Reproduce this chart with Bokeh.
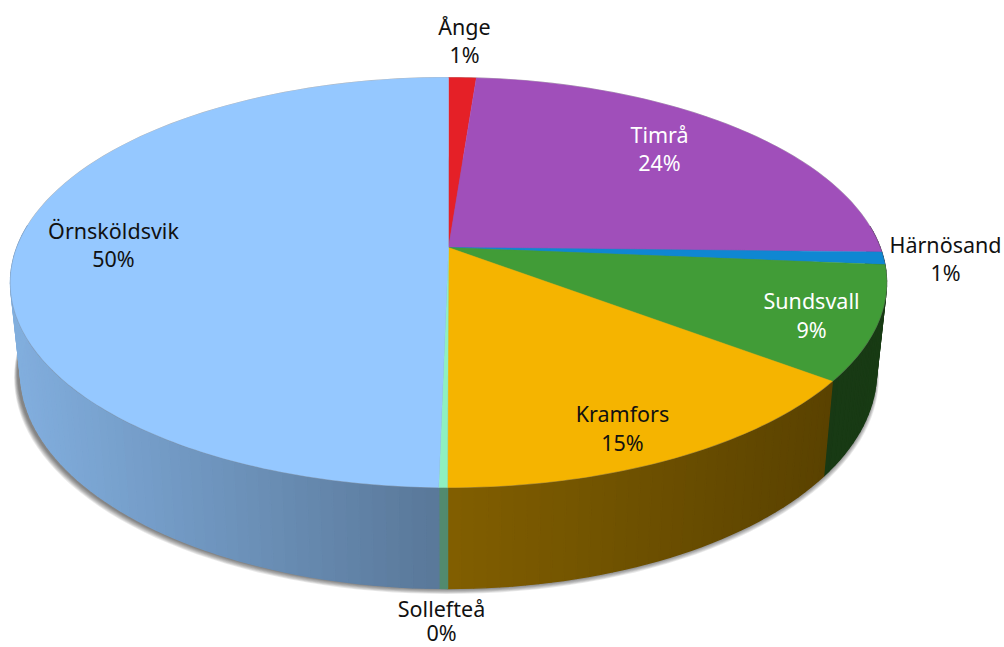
import numpy as np
from bokeh.plotting import figure
from bokeh.embed import file_html
from bokeh.resources import INLINE
from bokeh.core.properties import value

# --- data (clockwise from 12 o'clock) ---
names = ["Ånge", "Timrå", "Härnösand", "Sundsvall", "Kramfors", "Sollefteå", "Örnsköldsvik"]
shares = [1.2, 24.15, 1.0, 8.95, 14.73, 0.27, 49.7]
pct_labels = ["1%", "24%", "1%", "9%", "15%", "0%", "50%"]
top_colors = ["#E52027", "#A04FBA", "#0F87D2", "#419C37", "#F5B400", "#8FF0C0", "#95C8FF"]
label_colors = ["#111111", "#FFFFFF", "#111111", "#FFFFFF", "#111111", "#111111", "#111111"]
label_x = [464, 659, 945, 811, 622, 441, 113]
label_y = [26, 134, 244, 300, 413, 608, 230]
label_y2 = [54, 162, 272, 329, 442, 632, 258]

# --- projection of the tilted disc ---
CX, CY = 448.0, 247.0
A, B, C = 431.6, 0.1707, 199.0
SX = 0.977


def rim_top(theta):
    u, v = np.sin(theta), np.cos(theta)
    w = 1 + B * v
    return CX + A * u / w, CY - C * v / w


def rim_bottom(theta):
    x, y = rim_top(theta)
    return CX + SX * (x - CX), y + 95.0 + 0.0566 * (y - 381.0)


def hex_shade(col, s):
    r, g, b = [int(col[i:i + 2], 16) for i in (1, 3, 5)]
    return "#%02X%02X%02X" % (int(r * s), int(g * s), int(b * s))


def shade_at(x):
    return np.interp(x, [15, 440, 448, 830, 880], [0.87, 0.60, 0.53, 0.37, 0.38])


p = figure(width=1004, height=647, x_range=(0, 1004), y_range=(647, 0),
           output_backend="svg", toolbar_location=None, min_border=0,
           outline_line_color=None, background_fill_color="white",
           border_fill_color="white",
           styles={"position": "absolute", "left": "0px", "top": "0px"})
p.axis.visible = False
p.grid.visible = False

edges = np.concatenate([[0.0], np.cumsum(shares)]) / np.sum(shares) * 2 * np.pi

# soft shadow under the pie
full = np.linspace(0, 2 * np.pi, 181)
bx, by = rim_bottom(full)
sh_xs, sh_ys = [], []
for k in range(1, 8):
    sh_xs.append(list(CX - 2.0 + (bx - CX) * (1 + k * 0.0012 + 0.002)))
    sh_ys.append(list(by + k * 0.8))
p.patches(sh_xs, sh_ys, fill_color="black", fill_alpha=0.085, line_color=None)

# walls as thin strips with a horizontal gradient
wx, wy, wc = [], [], []
for i, col in enumerate(top_colors):
    t0, t1 = edges[i], edges[i + 1]
    n = max(1, int(np.ceil((t1 - t0) / np.radians(1.5))))
    ts = np.linspace(t0, t1, n + 1)
    for a, b in zip(ts[:-1], ts[1:]):
        if np.cos((a + b) / 2) > 0.12:
            continue
        xa, ya = rim_top(a)
        xb, yb = rim_top(b)
        xc, yc = rim_bottom(b)
        xd, yd = rim_bottom(a)
        wx.append([xa, xb, xc, xd])
        wy.append([ya, yb, yc, yd])
        wc.append(hex_shade(col, shade_at((xa + xb) / 2)))
p.patches(wx, wy, fill_color=wc, line_color=wc, line_width=1.4)

# thin grey edge round the disc
ex, ey = rim_top(full)
p.line(ex, ey, line_color="#808080", line_alpha=0.55, line_width=1.2)

# top faces
fx, fy = [], []
for i in range(len(shares)):
    n = max(2, int(np.ceil((edges[i + 1] - edges[i]) / np.radians(1.0))))
    ts = np.linspace(edges[i], edges[i + 1], n + 1)
    x, y = rim_top(ts)
    fx.append([CX] + list(x))
    fy.append([CY] + list(y))
p.patches(fx, fy, fill_color=top_colors, line_color=top_colors, line_width=0.4)

# labels
for nm, pc, col, lx, ly, ly2 in zip(names, pct_labels, label_colors, label_x, label_y, label_y2):
    p.text([lx], [ly], text=[nm], text_color=col, text_font=value("Noto Sans"),
           text_font_size="21.5px", text_align="center", text_baseline="middle")
    p.text([lx], [ly2], text=[pc], text_color=col, text_font=value("Noto Sans"),
           text_font_size="21.5px", text_align="center", text_baseline="middle")

open("out.html", "w").write(file_html(p, INLINE))
